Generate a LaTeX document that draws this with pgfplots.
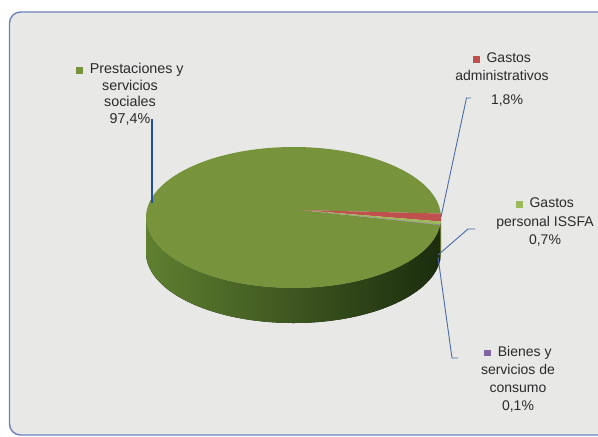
\documentclass[border=0pt]{standalone}
\usepackage{pgfplots}
\usepackage{pgfplotstable}
\pgfplotsset{compat=1.18}
\usepackage{fontspec}
\setmainfont{Liberation Sans}
\definecolor{framebg}{HTML}{E8E8E7}
\definecolor{frameline}{HTML}{7080BC}
\definecolor{sliceA}{HTML}{77933C}
\definecolor{sliceB}{HTML}{C0504D}
\definecolor{sliceC}{HTML}{9BBB59}
\definecolor{sliceD}{HTML}{8064A2}
\definecolor{sideAl}{HTML}{5F7F30}
\definecolor{sideAm}{HTML}{486624}
\definecolor{sideAr}{HTML}{1B2D0E}
\definecolor{sideB}{HTML}{7A2E2C}
\definecolor{sideC}{HTML}{5E7A30}
\definecolor{sideD}{HTML}{4E3C66}
\definecolor{leader}{HTML}{4A6BAA}
\definecolor{leaderthick}{HTML}{1F4FA0}
\definecolor{txt}{HTML}{2A2A2A}

\pgfplotstableread[col sep=comma]{
name,value
Prestaciones y servicios sociales,97.4
Gastos administrativos,1.8
Gastos personal ISSFA,0.7
Bienes y servicios de consumo,0.1
}\piedata

\pgfplotstablegetelem{0}{value}\of\piedata \let\vA\pgfplotsretval
\pgfplotstablegetelem{1}{value}\of\piedata \let\vB\pgfplotsretval
\pgfplotstablegetelem{2}{value}\of\piedata \let\vC\pgfplotsretval
\pgfplotstablegetelem{3}{value}\of\piedata \let\vD\pgfplotsretval
\pgfmathsetmacro\aA{353.84}
\pgfmathsetmacro\aB{\aA-3.6*\vA}
\pgfmathsetmacro\aC{\aB-3.6*\vB}
\pgfmathsetmacro\aD{\aC-3.6*\vC}
\pgfmathsetmacro\aE{\aD-3.6*\vD}
\tikzset{pie/.style={x radius=147.5pt, y radius=70.5pt}}
\newcommand\sq[1]{\textcolor{#1}{\rule{6.5pt}{6.5pt}}\hspace{7pt}}

\begin{document}
\begin{tikzpicture}
\begin{axis}[
  name=main,
  scale only axis, width=598pt, height=437pt,
  xmin=0, xmax=598, ymin=0, ymax=437, y dir=reverse,
  enlargelimits=false, hide axis, clip=true]
% frame
\draw[frameline, line width=1.4pt, fill=framebg, rounded corners=11pt]
  (axis cs:9.5,12) rectangle (axis cs:660,435);
\coordinate (C) at (axis cs:293.5,217.5);
\coordinate (P) at (axis cs:300,210);
% side faces
\fill[left color=sideAl, middle color=sideAm, right color=sideAr]
  ([shift={(-180:147.5pt and 70.5pt)}]C) arc[pie, start angle=-180, end angle=\aE]
  -- ++(0pt,-35pt) arc[pie, start angle=\aE, end angle=-180] -- cycle;
\fill[sideD]
  ([shift={(\aE:147.5pt and 70.5pt)}]C) arc[pie, start angle=\aE, end angle=\aD]
  -- ++(0pt,-35pt) arc[pie, start angle=\aD, end angle=\aE] -- cycle;
\fill[sideC]
  ([shift={(\aD:147.5pt and 70.5pt)}]C) arc[pie, start angle=\aD, end angle=\aC]
  -- ++(0pt,-35pt) arc[pie, start angle=\aC, end angle=\aD] -- cycle;
\fill[sideB]
  ([shift={(\aC:147.5pt and 70.5pt)}]C) arc[pie, start angle=\aC, end angle=0]
  -- ++(0pt,-35pt) arc[pie, start angle=0, end angle=\aC] -- cycle;
% top faces
\fill[sliceA] (P) -- ([shift={(\aB:147.5pt and 70.5pt)}]C)
  arc[pie, start angle=\aB, end angle=\aA] -- cycle;
\fill[sliceB] (P) -- ([shift={(\aC:147.5pt and 70.5pt)}]C)
  arc[pie, start angle=\aC, end angle=\aB] -- cycle;
\fill[sliceC] (P) -- ([shift={(\aD:147.5pt and 70.5pt)}]C)
  arc[pie, start angle=\aD, end angle=\aC] -- cycle;
\fill[sliceD] (P) -- ([shift={(\aE:147.5pt and 70.5pt)}]C)
  arc[pie, start angle=\aE, end angle=\aD] -- cycle;
% leader lines
\draw[leaderthick, line width=2.6pt] (axis cs:152,119) -- (axis cs:152,203);
\draw[leader, line width=0.9pt] (axis cs:441,217) -- (axis cs:466.5,98) -- (axis cs:471,98);
\draw[leader, line width=0.9pt] (axis cs:438,255) -- (axis cs:468,229) -- (axis cs:475,229);
\draw[leader, line width=0.9pt] (axis cs:438,257) -- (axis cs:452,358) -- (axis cs:458,358);
% labels
\node[anchor=north, inner sep=0pt, align=center, text=txt,
  font=\fontsize{14.3}{16.5}\selectfont] at (axis cs:130,63)
  {\sq{sliceA}Prestaciones y\\servicios\\sociales\\97,4\%};
\node[anchor=north, inner sep=0pt, align=center, text=txt,
  font=\fontsize{14}{18}\selectfont] at (axis cs:502,53)
  {\sq{sliceB}Gastos\\administrativos};
\node[anchor=north, inner sep=0pt, text=txt,
  font=\fontsize{14}{18}\selectfont] at (axis cs:507,95) {1,8\%};
\node[anchor=north, inner sep=0pt, align=center, text=txt,
  font=\fontsize{14}{18.5}\selectfont] at (axis cs:545,198)
  {\sq{sliceC}Gastos\\personal ISSFA\\0,7\%};
\node[anchor=north, inner sep=0pt, align=center, text=txt,
  font=\fontsize{14}{18}\selectfont] at (axis cs:518,346)
  {\sq{sliceD}Bienes y\\servicios de\\consumo\\0,1\%};
\end{axis}
\pgfresetboundingbox
\useasboundingbox (main.south west) rectangle (main.north east);
\end{tikzpicture}
\end{document}
